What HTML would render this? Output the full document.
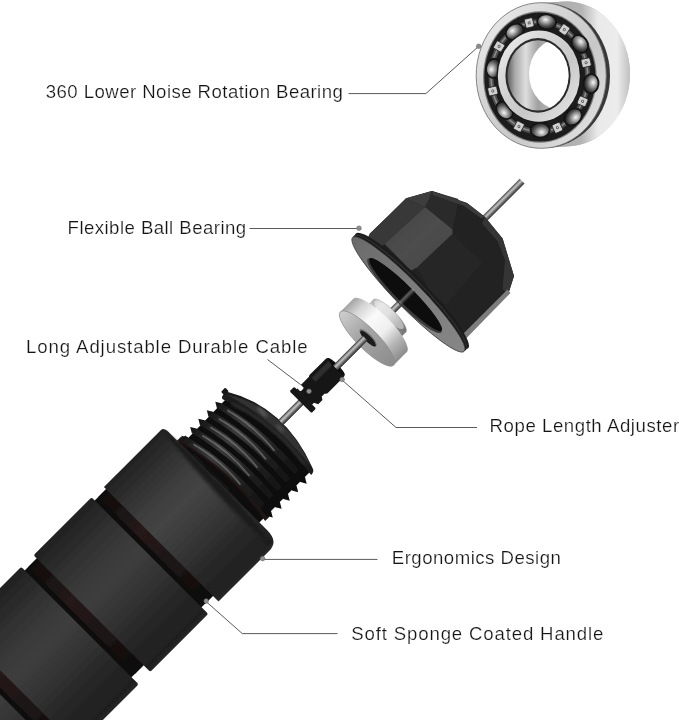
<!DOCTYPE html>
<html><head><meta charset="utf-8"><title>Jump rope handle</title>
<style>
html,body{margin:0;padding:0;background:#fff;}
body{width:679px;height:720px;overflow:hidden;}
svg{display:block;position:absolute;left:0;top:0;}
text{font-family:"Liberation Sans",sans-serif;font-size:18.6px;fill:#141414;stroke:#fff;stroke-width:0.22px;paint-order:fill stroke;}
</style></head><body>
<svg width="679" height="720" viewBox="0 0 679 720">
<defs>
<linearGradient id="foam" x1="0" y1="0" x2="0" y2="1">
 <stop offset="0" stop-color="#222"/><stop offset="0.1" stop-color="#2b2b2b"/>
 <stop offset="0.3" stop-color="#3e3e3e"/><stop offset="0.42" stop-color="#444"/><stop offset="0.6" stop-color="#383838"/>
 <stop offset="0.8" stop-color="#282828"/><stop offset="0.97" stop-color="#202020"/><stop offset="1" stop-color="#2a2a2a"/>
</linearGradient>
<linearGradient id="foam2" x1="0" y1="0" x2="0" y2="1">
 <stop offset="0" stop-color="#202020"/><stop offset="0.1" stop-color="#292929"/>
 <stop offset="0.32" stop-color="#393939"/><stop offset="0.45" stop-color="#3d3d3d"/><stop offset="0.6" stop-color="#343434"/>
 <stop offset="0.8" stop-color="#262626"/><stop offset="0.97" stop-color="#1f1f1f"/><stop offset="1" stop-color="#282828"/>
</linearGradient>
<linearGradient id="groove" x1="0" y1="0" x2="0" y2="1">
 <stop offset="0" stop-color="#100b0b"/><stop offset="0.35" stop-color="#241a1a"/>
 <stop offset="0.7" stop-color="#1c1414"/><stop offset="1" stop-color="#0b0707"/>
</linearGradient>
<linearGradient id="thread" x1="0" y1="0" x2="0" y2="1">
 <stop offset="0" stop-color="#141414"/><stop offset="0.3" stop-color="#3a3a3a"/>
 <stop offset="0.6" stop-color="#222"/><stop offset="1" stop-color="#0a0a0a"/>
</linearGradient>
<linearGradient id="rod" x1="0" y1="0" x2="0" y2="1">
 <stop offset="0" stop-color="#3c3c3c"/><stop offset="0.2" stop-color="#8a8a8a"/><stop offset="0.4" stop-color="#c4c4c4"/>
 <stop offset="0.65" stop-color="#7a7a7a"/><stop offset="1" stop-color="#2a2a2a"/>
</linearGradient>
<linearGradient id="silverSide" x1="0" y1="0" x2="0" y2="1">
 <stop offset="0" stop-color="#a4a4a4"/><stop offset="0.15" stop-color="#d4d4d4"/>
 <stop offset="0.35" stop-color="#fafafa"/><stop offset="0.6" stop-color="#efefef"/><stop offset="0.8" stop-color="#b6b6b6"/><stop offset="1" stop-color="#8c8c8c"/>
</linearGradient>
<linearGradient id="hubSide" x1="0" y1="0" x2="0" y2="1">
 <stop offset="0" stop-color="#b8b8b8"/><stop offset="0.2" stop-color="#f0f0f0"/>
 <stop offset="0.45" stop-color="#dcdcdc"/><stop offset="0.75" stop-color="#8c8c8c"/><stop offset="1" stop-color="#707070"/>
</linearGradient>
<linearGradient id="silverFace" x1="0" y1="0" x2="0" y2="1">
 <stop offset="0" stop-color="#cfcfcf"/><stop offset="0.4" stop-color="#a6a6a6"/><stop offset="1" stop-color="#8c8c8c"/>
</linearGradient>
<linearGradient id="capIn" x1="0" y1="0" x2="0" y2="1">
 <stop offset="0" stop-color="#050505"/><stop offset="0.6" stop-color="#0c0c0c"/><stop offset="1" stop-color="#1e1e1e"/>
</linearGradient>
<linearGradient id="flangeFace" x1="0" y1="0" x2="1" y2="0">
 <stop offset="0" stop-color="#6a6a6a"/><stop offset="0.5" stop-color="#7c7c7c"/><stop offset="1" stop-color="#868686"/>
</linearGradient>
<linearGradient id="litFace" x1="0" y1="0" x2="1" y2="1">
 <stop offset="0" stop-color="#444"/><stop offset="0.5" stop-color="#4d4d4d"/><stop offset="1" stop-color="#464646"/>
</linearGradient>
<linearGradient id="brSide" x1="0" y1="0" x2="1" y2="0">
 <stop offset="0" stop-color="#9a9a9a"/><stop offset="0.62" stop-color="#b4b4b4"/><stop offset="0.75" stop-color="#eaeaea"/><stop offset="0.9" stop-color="#ececec"/><stop offset="1" stop-color="#c0c0c0"/>
</linearGradient>
<linearGradient id="brFace" x1="0" y1="0" x2="1" y2="1">
 <stop offset="0" stop-color="#f2f2f2"/><stop offset="0.3" stop-color="#d8d8d8"/><stop offset="0.6" stop-color="#c8c8c8"/><stop offset="1" stop-color="#e8e8e8"/>
</linearGradient>
<linearGradient id="brBore" x1="0" y1="0" x2="1" y2="0">
 <stop offset="0" stop-color="#5e5e5e"/><stop offset="0.12" stop-color="#a8a8a8"/><stop offset="0.3" stop-color="#dedede"/><stop offset="0.5" stop-color="#a0a0a0"/><stop offset="1" stop-color="#d8d8d8"/>
</linearGradient>
<radialGradient id="ball" cx="0.42" cy="0.36" r="0.62">
 <stop offset="0" stop-color="#f6f6f6"/><stop offset="0.3" stop-color="#b0b0b0"/><stop offset="0.7" stop-color="#505050"/><stop offset="1" stop-color="#1e1e1e"/>
</radialGradient>
<filter id="gray" x="-2%" y="-10%" width="104%" height="120%"><feColorMatrix type="saturate" values="0"/></filter>
<filter id="soft" x="-5%" y="-5%" width="110%" height="110%"><feGaussianBlur stdDeviation="0.45"/></filter>
<filter id="b1" x="-20%" y="-20%" width="140%" height="140%"><feGaussianBlur stdDeviation="0.6"/></filter>
<filter id="b2" x="-20%" y="-20%" width="140%" height="140%"><feGaussianBlur stdDeviation="1.5"/></filter>
<filter id="b3" x="-30%" y="-30%" width="160%" height="160%"><feGaussianBlur stdDeviation="3"/></filter>
<clipPath id="boreClip"><ellipse cx="538" cy="75.4" rx="30.5" ry="35.2"/></clipPath>
</defs>
<rect width="679" height="720" fill="#fff"/>

<g fill="none" stroke="#5a5a5a" stroke-width="1">
<path d="M348.5 93.6H425.9L478.7 46.3"/>
<path d="M249.5 228.5H359"/>
<path d="M267.5 359.5L309 391"/>
<path d="M342 380L396 427.5H477"/>
<path d="M263 559.4H377.5"/>
<path d="M206 601.5L242.3 633.6H337.5"/>
</g>
<g filter="url(#gray)">
<text x="45.8" y="98" textLength="297" lengthAdjust="spacing">360 Lower Noise Rotation Bearing</text>
<text x="67.6" y="233.5" textLength="178.5" lengthAdjust="spacing">Flexible Ball Bearing</text>
<text x="26.1" y="353.3" textLength="281.5" lengthAdjust="spacing">Long Adjustable Durable Cable</text>
<text x="489.6" y="432" textLength="189.5" lengthAdjust="spacing">Rope Length Adjuster</text>
<text x="391.8" y="564.4" textLength="169" lengthAdjust="spacing">Ergonomics Design</text>
<text x="351.3" y="639.5" textLength="252" lengthAdjust="spacing">Soft Sponge Coated Handle</text>
</g>
<g filter="url(#soft)">
<g id="bearing">
<path d="M541.2 2.700000000000003 L566 1.5 A64 72.5 0 0 1 566 146.5 L541.2 148.3 Z" fill="url(#brSide)"/>
<ellipse cx="566" cy="74" rx="64" ry="72.5" fill="url(#brSide)"/>
<ellipse cx="543.8000000000001" cy="75.5" rx="66.2" ry="72.6" fill="#383838"/>
<ellipse cx="541.2" cy="75.5" rx="65" ry="72.8" fill="url(#brFace)" stroke="#777" stroke-width="0.9"/>
<ellipse cx="539.9" cy="77" rx="56.800000000000004" ry="65.8" fill="#7d7d7d"/>
<ellipse cx="539.9" cy="77" rx="55.6" ry="64.6" fill="#1c1c1c"/>
<ellipse cx="539.4" cy="76.7" rx="48.3" ry="55" fill="none" stroke="#4e4e4e" stroke-width="5"/>
<ellipse cx="539.4" cy="76.7" rx="48.3" ry="55" fill="none" stroke="#8a8a8a" stroke-width="1.6"/>
<g transform="translate(529.2 22.9) rotate(-13.8)"><rect x="-4.2" y="-4.6" width="8.4" height="9.2" rx="1.5" fill="#cfcfcf" stroke="#222" stroke-width="0.8"/><circle r="1.5" fill="#555"/><circle r="0.7" fill="#ddd"/></g>
<g transform="translate(564.3 29.6) rotate(34.4)"><rect x="-4.2" y="-4.6" width="8.4" height="9.2" rx="1.5" fill="#cfcfcf" stroke="#222" stroke-width="0.8"/><circle r="1.5" fill="#555"/><circle r="0.7" fill="#ddd"/></g>
<g transform="translate(586.1 62.7) rotate(77.0)"><rect x="-4.2" y="-4.6" width="8.4" height="9.2" rx="1.5" fill="#cfcfcf" stroke="#222" stroke-width="0.8"/><circle r="1.5" fill="#555"/><circle r="0.7" fill="#ddd"/></g>
<g transform="translate(582.6 101.3) rotate(113.7)"><rect x="-4.2" y="-4.6" width="8.4" height="9.2" rx="1.5" fill="#cfcfcf" stroke="#222" stroke-width="0.8"/><circle r="1.5" fill="#555"/><circle r="0.7" fill="#ddd"/></g>
<g transform="translate(557.4 127.7) rotate(155.4)"><rect x="-4.2" y="-4.6" width="8.4" height="9.2" rx="1.5" fill="#cfcfcf" stroke="#222" stroke-width="0.8"/><circle r="1.5" fill="#555"/><circle r="0.7" fill="#ddd"/></g>
<g transform="translate(518.9 126.5) rotate(-152.0)"><rect x="-4.2" y="-4.6" width="8.4" height="9.2" rx="1.5" fill="#cfcfcf" stroke="#222" stroke-width="0.8"/><circle r="1.5" fill="#555"/><circle r="0.7" fill="#ddd"/></g>
<g transform="translate(492.8 91.0) rotate(-103.4)"><rect x="-4.2" y="-4.6" width="8.4" height="9.2" rx="1.5" fill="#cfcfcf" stroke="#222" stroke-width="0.8"/><circle r="1.5" fill="#555"/><circle r="0.7" fill="#ddd"/></g>
<g transform="translate(499.1 46.4) rotate(-59.8)"><rect x="-4.2" y="-4.6" width="8.4" height="9.2" rx="1.5" fill="#cfcfcf" stroke="#222" stroke-width="0.8"/><circle r="1.5" fill="#555"/><circle r="0.7" fill="#ddd"/></g>
<ellipse cx="514.7" cy="31.8" rx="9.6" ry="7.6" transform="rotate(-32.4 514.7 31.8)" fill="url(#ball)" stroke="#121212" stroke-width="1.8"/>
<ellipse cx="546.7" cy="21.9" rx="9.6" ry="7.6" transform="rotate(8.0 546.7 21.9)" fill="url(#ball)" stroke="#121212" stroke-width="1.8"/>
<ellipse cx="579.8" cy="44" rx="9.6" ry="7.6" transform="rotate(54.0 579.8 44)" fill="url(#ball)" stroke="#121212" stroke-width="1.8"/>
<ellipse cx="590.9" cy="83.7" rx="9.6" ry="7.6" transform="rotate(96.6 590.9 83.7)" fill="url(#ball)" stroke="#121212" stroke-width="1.8"/>
<ellipse cx="573.2" cy="116.9" rx="9.6" ry="7.6" transform="rotate(136.5 573.2 116.9)" fill="url(#ball)" stroke="#121212" stroke-width="1.8"/>
<ellipse cx="540.1" cy="130.1" rx="9.6" ry="7.6" transform="rotate(179.8 540.1 130.1)" fill="url(#ball)" stroke="#121212" stroke-width="1.8"/>
<ellipse cx="504.7" cy="110.2" rx="9.6" ry="7.6" transform="rotate(230.4 504.7 110.2)" fill="url(#ball)" stroke="#121212" stroke-width="1.8"/>
<ellipse cx="493.7" cy="68.3" rx="9.6" ry="7.6" transform="rotate(-80.6 493.7 68.3)" fill="url(#ball)" stroke="#121212" stroke-width="1.8"/>
<ellipse cx="538.8" cy="76.1" rx="42.4" ry="47" fill="#1a1a1a"/>
<ellipse cx="538.8" cy="76.1" rx="41" ry="45.6" fill="url(#brFace)"/>
<ellipse cx="538" cy="75.4" rx="32.6" ry="37.3" fill="#2c2c2c"/>
<ellipse cx="538" cy="75.4" rx="30.5" ry="35.2" fill="url(#brBore)"/>
<g clip-path="url(#boreClip)"><ellipse cx="561.5" cy="74" rx="32.5" ry="36" fill="#fff"/></g>
</g>
<g transform="translate(0,705.5) rotate(-45)">
<rect x="380" y="-5" width="360" height="6.8" fill="url(#rod)"/>
<rect x="-90" y="-78" width="400" height="151" fill="#0c0909"/>
<path d="M300 -60 H322 L336 54 H300 Z" fill="#111"/>
<rect x="13" y="-78" width="13" height="151" fill="url(#groove)"/>
<rect x="118" y="-78" width="13" height="151" fill="url(#groove)"/>
<rect x="217" y="-78" width="12" height="151" fill="url(#groove)"/>
<rect x="-90" y="-83.5" width="98" height="167.0" rx="2" fill="url(#foam2)"/>
<rect x="25" y="-83" width="88" height="166" rx="2" fill="url(#foam2)"/>
<rect x="130" y="-82.5" width="82" height="165.0" rx="2" fill="url(#foam2)"/>
<path d="M228 -81 H309 Q312 -81 312.5 -76 L313 65 Q313 81 300 81 H228 Z" fill="url(#foam)"/>
<path d="M310 -79 Q299 0 305 77 Q320 0 310 -79 Z" fill="#151515" opacity="0.8" filter="url(#b2)"/>
<g>
<path d="M312 -62 Q328 -5 318 57 L324 57 Q334 -5 318 -62 Z" fill="#1e1212"/>
<path d="M318 -56 L378 -57 Q392 -5 386 54 L324 54 Q332 -5 318 -56 Z" fill="#0b0b0b"/>
<path d="M315.7 -57 L319 -62.5 L322.3 -57 Q335.3 -5 329.0 54.5 L325.7 60 L322.4 54.5 Q328.7 -5 315.7 -57 Z" fill="url(#thread)"/>
<path d="M321.5 -48 Q329.5 -18 326.2 14" fill="none" stroke="#909090" stroke-width="1.4" opacity="0.7" filter="url(#b1)"/>
<path d="M328.2 -57 L331.5 -62.5 L334.8 -57 Q347.8 -5 341.5 54.5 L338.2 60 L334.9 54.5 Q341.2 -5 328.2 -57 Z" fill="url(#thread)"/>
<path d="M334.0 -48 Q342.0 -18 338.7 14" fill="none" stroke="#909090" stroke-width="1.4" opacity="0.7" filter="url(#b1)"/>
<path d="M339.7 -57 L343 -62.5 L346.3 -57 Q359.3 -5 353.0 54.5 L349.7 60 L346.4 54.5 Q352.7 -5 339.7 -57 Z" fill="url(#thread)"/>
<path d="M345.5 -48 Q353.5 -18 350.2 14" fill="none" stroke="#909090" stroke-width="1.4" opacity="0.7" filter="url(#b1)"/>
<path d="M351.7 -57 L355 -62.5 L358.3 -57 Q371.3 -5 365.0 54.5 L361.7 60 L358.4 54.5 Q364.7 -5 351.7 -57 Z" fill="url(#thread)"/>
<path d="M357.5 -48 Q365.5 -18 362.2 14" fill="none" stroke="#909090" stroke-width="1.4" opacity="0.7" filter="url(#b1)"/>
<path d="M363.7 -57 L367 -62.5 L370.3 -57 Q383.3 -5 377.0 54.5 L373.7 60 L370.4 54.5 Q376.7 -5 363.7 -57 Z" fill="url(#thread)"/>
<path d="M369.5 -48 Q377.5 -18 374.2 14" fill="none" stroke="#909090" stroke-width="1.4" opacity="0.7" filter="url(#b1)"/>
<path d="M374 -59 Q374 -62 379 -62 L382 -62 Q413 -10 389 53 Q388 57 383 57 Q392 -5 374 -59 Z" fill="#1a1a1a"/>
<path d="M380 -60 Q412 -10 389 51 Q396 -8 380 -60 Z" fill="#303030" filter="url(#b1)"/>
<ellipse cx="393" cy="-22" rx="2" ry="7" fill="#5a5a5a" filter="url(#b2)"/>
<ellipse cx="394" cy="2" rx="1.8" ry="5" fill="#505050" filter="url(#b2)"/>
<path d="M377 -50 Q394 -5 386 45" fill="none" stroke="#303030" stroke-width="2.5" filter="url(#b2)"/>
<rect x="378" y="-65.5" width="6" height="5" rx="1" fill="#161616"/>
</g>
<rect x="399" y="-5" width="40" height="6.8" fill="url(#rod)"/>
<g transform="translate(0,-2)">
<rect x="427" y="-15.5" width="6.5" height="31" rx="1.5" fill="#141414"/>
<path d="M433 -12 H452 V11 H446 L444 14 H438 L436 10 H433 Z" fill="#181818"/>
<rect x="434.5" y="-13" width="5" height="5.5" rx="1.2" fill="#fff"/>
<rect x="450" y="-12.8" width="28.5" height="25.6" rx="3.5" fill="#161616"/>
<rect x="452" y="-9.5" width="24" height="6" fill="#2e2e2e" filter="url(#b1)"/>
<ellipse cx="477.5" cy="0" rx="2.2" ry="11.5" fill="#0c0c0c"/>
</g>
<g>
<rect x="537" y="-23" width="14" height="46" fill="url(#hubSide)"/>
<ellipse cx="551" cy="0" rx="6.3" ry="23" fill="url(#hubSide)"/>
<ellipse cx="551.6" cy="-1" rx="5.5" ry="19.5" fill="#e2e2e2" opacity="0.55"/>
<ellipse cx="551" cy="0" rx="6.3" ry="23" fill="none" stroke="#9a9a9a" stroke-width="0.5"/>
<ellipse cx="537.5" cy="0" rx="10.4" ry="37.7" fill="url(#silverSide)"/>
<rect x="519" y="-37.7" width="18.5" height="75.4" fill="url(#silverSide)"/>
<ellipse cx="519" cy="0" rx="10.4" ry="37.7" fill="url(#silverFace)" stroke="#8a8a8a" stroke-width="0.7"/>
<ellipse cx="520.3" cy="0.3" rx="3.6" ry="11.6" fill="#6e6e6e"/>
<ellipse cx="519.6" cy="0.8" rx="3.0" ry="10.6" fill="#1a1a1a"/>
</g>
<rect x="476" y="-5" width="42" height="6.8" fill="url(#rod)"/>
</g>
<g id="cap">
<path d="M366 242 L370 233.6 L406.1 198.3 L431.9 190.9 L467 203 L484.8 216.7 L502.6 238.6 L514 275.9 L508.3 293.7 L466 338 L420 300 Z" fill="#202020"/>
<path d="M366 242 L370 233.6 L406.1 198.3 L425.2 207.1 L384.7 243.9 L376 250 Z" fill="#393939"/>
<path d="M384.7 243.9 L425.2 207.1 L452.5 229.2 L452.5 234 L417.1 267.5 L411 270.4 Z" fill="url(#litFace)"/>
<path d="M406.1 198.3 L431.9 190.9 L428.9 199.7 L425.2 207.1 Z" fill="#3d3d3d"/>
<path d="M425.2 207.1 L428.9 199.7 L431.9 190.9 L458.4 199 L456 214 L452.5 229.2 Z" fill="#2b2b2b"/>
<path d="M431.9 190.9 L467 203 L484.8 216.7 L481.5 218.5 L463.5 205.8 L433 195 Z" fill="#3a3a3a"/>
<path d="M417.1 267.5 L452.5 234 L482 262.5 L446 305 L430 292 Z" fill="#282828" opacity="0.9"/>
<path d="M484.8 216.7 L502.6 238.6 L514 275.9 L508.3 293.7 L502.5 289.5 L505 260 L497.5 241 L482 223.5 Z" fill="#363636"/>
<path d="M466 338.5 L510.5 293 L507.5 289.5 L463 334 Z" fill="#7c7c7c"/>
<ellipse cx="412.0" cy="290.79999999999995" rx="80.3" ry="13.6" transform="rotate(45.6 412.0 290.79999999999995)" fill="#1d1d1d"/>
<ellipse cx="410.4" cy="292.4" rx="80" ry="13.4" transform="rotate(45.6 410.4 292.4)" fill="#2e2e2e"/>
<ellipse cx="409.4" cy="293.4" rx="79.9" ry="13.3" transform="rotate(45.6 409.4 293.4)" fill="#161616"/>
<ellipse cx="408.4" cy="294.4" rx="79.7" ry="13.15" transform="rotate(45.6 408.4 294.4)" fill="url(#flangeFace)" stroke="#3a3a3a" stroke-width="0.8"/>
<ellipse cx="404.5" cy="295.6" rx="52" ry="9.5" transform="rotate(45.1 404.5 295.6)" fill="#3a3a3a"/>
<ellipse cx="405.6" cy="294.6" rx="51" ry="8.3" transform="rotate(45.1 405.6 294.6)" fill="#0b0b0b"/>
</g>
<g transform="translate(0,705.5) rotate(-45)" opacity="0.45"><rect x="567" y="-4.2" width="20" height="5.4" fill="url(#rod)"/></g>
</g>
<circle cx="478.7" cy="46.3" r="2.3" fill="#8e8e8e" stroke="#6a6a6a" stroke-width="0.6"/>
<circle cx="359" cy="228.2" r="2.3" fill="#8e8e8e" stroke="#6a6a6a" stroke-width="0.6"/>
<circle cx="309" cy="391.3" r="2.3" fill="#8e8e8e" stroke="#6a6a6a" stroke-width="0.6"/>
<circle cx="342.2" cy="379.5" r="2.3" fill="#8e8e8e" stroke="#6a6a6a" stroke-width="0.6"/>
<circle cx="262.6" cy="558.6" r="2.3" fill="#8e8e8e" stroke="#6a6a6a" stroke-width="0.6"/>
<circle cx="206.2" cy="601" r="2.3" fill="#8e8e8e" stroke="#6a6a6a" stroke-width="0.6"/>
</svg></body></html>
